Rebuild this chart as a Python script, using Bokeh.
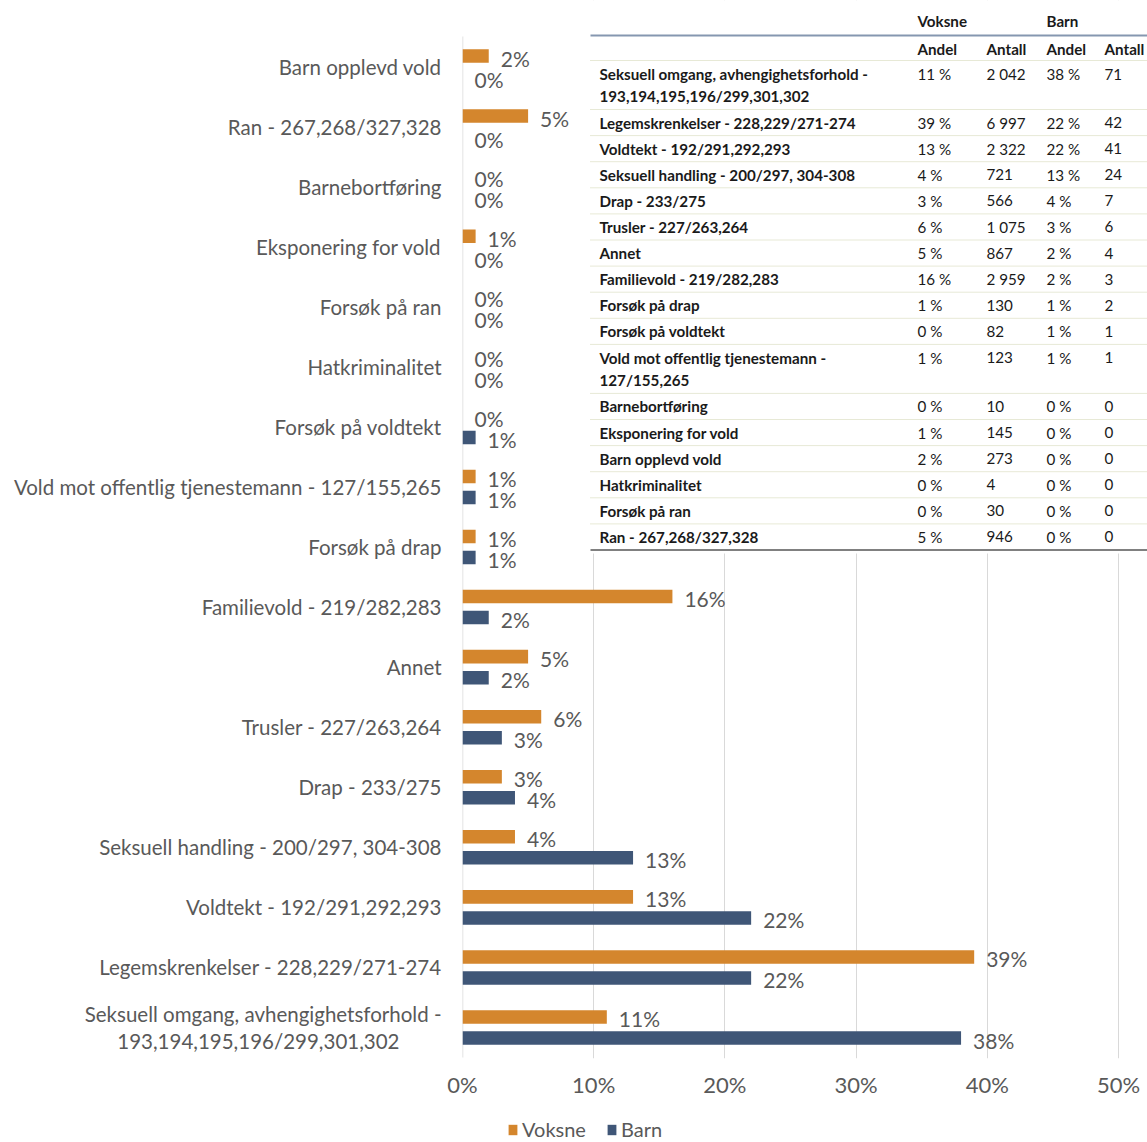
from bokeh.plotting import figure
from bokeh.layouts import column
from bokeh.models import Range1d, FixedTicker, PrintfTickFormatter, Legend, LegendItem
from bokeh.embed import file_html
from bokeh.resources import INLINE
from bokeh.core.properties import value

# ---------------- data ----------------
categories = [
    "Barn opplevd vold",
    "Ran - 267,268/327,328",
    "Barnebortføring",
    "Eksponering for vold",
    "Forsøk på ran",
    "Hatkriminalitet",
    "Forsøk på voldtekt",
    "Vold mot offentlig tjenestemann - 127/155,265",
    "Forsøk på drap",
    "Familievold - 219/282,283",
    "Annet",
    "Trusler - 227/263,264",
    "Drap - 233/275",
    "Seksuell handling - 200/297, 304-308",
    "Voldtekt - 192/291,292,293",
    "Legemskrenkelser - 228,229/271-274",
    "Seksuell omgang, avhengighetsforhold -\n193,194,195,196/299,301,302",
]
voksne = [2, 5, 0, 1, 0, 0, 0, 1, 1, 16, 5, 6, 3, 4, 13, 39, 11]
barn = [0, 0, 0, 0, 0, 0, 1, 1, 1, 2, 2, 3, 4, 13, 22, 22, 38]
series_names = ["Voksne", "Barn"]
x_ticks = [0, 10, 20, 30, 40, 50]

table_groups = ["Voksne", "Barn"]
table_header = ["Andel", "Antall", "Andel", "Antall"]
table_rows = [
    "Seksuell omgang, avhengighetsforhold -\n193,194,195,196/299,301,302",
    "Legemskrenkelser - 228,229/271-274",
    "Voldtekt - 192/291,292,293",
    "Seksuell handling - 200/297, 304-308",
    "Drap - 233/275",
    "Trusler - 227/263,264",
    "Annet",
    "Familievold - 219/282,283",
    "Forsøk på drap",
    "Forsøk på voldtekt",
    "Vold mot offentlig tjenestemann -\n127/155,265",
    "Barnebortføring",
    "Eksponering for vold",
    "Barn opplevd vold",
    "Hatkriminalitet",
    "Forsøk på ran",
    "Ran - 267,268/327,328",
]
table_voksne_andel = [11, 39, 13, 4, 3, 6, 5, 16, 1, 0, 1, 0, 1, 2, 0, 0, 5]
table_voksne_antall = [2042, 6997, 2322, 721, 566, 1075, 867, 2959, 130, 82, 123, 10, 145, 273, 4, 30, 946]
table_barn_andel = [38, 22, 22, 13, 4, 3, 2, 2, 1, 1, 1, 0, 0, 0, 0, 0, 0]
table_barn_antall = [71, 42, 41, 24, 7, 6, 4, 3, 2, 1, 1, 0, 0, 0, 0, 0, 0]

# ---------------- style / layout ----------------
ORANGE = "#D4862D"
NAVY = "#3F5677"
GREY_TXT = "#595959"
GRID = "#d9d9d9"
FONT = "Lato"

W, H_TOTAL = 1147, 1142
H = 1110                                  # main figure height; legend strip below
FRAME_L, FRAME_R = 462, W                 # page px
FRAME_T, FRAME_B = 0, 1058                # page px
X50_PX = 1118
PITCH = 60.06
BOTTOM_CAT_PX = 1027

n = len(categories)
ypos = [n - 1 - i for i in range(n)]

x_end = 50 * (FRAME_R - FRAME_L) / (X50_PX - FRAME_L)
y_start = -(FRAME_B - BOTTOM_CAT_PX) / PITCH
y_end = (BOTTOM_CAT_PX - FRAME_T) / PITCH

p = figure(width=W, height=H, output_backend="svg", toolbar_location=None,
           x_range=Range1d(0, x_end), y_range=Range1d(y_start, y_end),
           min_border_left=FRAME_L, min_border_right=0, min_border_top=0,
           min_border_bottom=H - FRAME_B)
p.outline_line_color = None
p.background_fill_color = "white"
p.border_fill_color = "white"

p.extra_x_ranges = {"px": Range1d(FRAME_L, FRAME_R)}
p.extra_y_ranges = {"py": Range1d(FRAME_B, FRAME_T)}

# grid
p.ygrid.visible = False
p.xgrid.ticker = FixedTicker(ticks=x_ticks[1:])
p.xgrid.grid_line_color = GRID
p.xgrid.grid_line_width = 1

# axes
p.xaxis.ticker = FixedTicker(ticks=x_ticks)
p.xaxis.formatter = PrintfTickFormatter(format="%d%%")
p.xaxis.axis_line_color = None
p.xaxis.major_tick_line_color = None
p.xaxis.minor_tick_line_color = None
p.xaxis.major_tick_out = 0
p.xaxis.major_tick_in = 0
p.xaxis.major_label_standoff = 12
p.xaxis.major_label_text_font = FONT
p.xaxis.major_label_text_font_size = "22px"
p.xaxis.major_label_text_color = GREY_TXT

# second line of the two-line label is centred under the first (padding on the right)
label_text = []
for c in categories:
    parts = c.split("\n")
    if len(parts) > 1:
        c = parts[0] + "\n" + parts[1] + "\u00a0" * 8
    label_text.append(c)

p.yaxis.ticker = FixedTicker(ticks=ypos)
p.yaxis.major_label_overrides = {y: c for y, c in zip(ypos, label_text)}
p.yaxis.axis_line_color = None
p.yaxis.major_tick_line_color = None
p.yaxis.minor_tick_line_color = None
p.yaxis.major_tick_out = 0
p.yaxis.major_tick_in = 0
p.yaxis.major_label_standoff = 21
p.yaxis.major_label_text_font = FONT
p.yaxis.major_label_text_font_size = "20.5px"
p.yaxis.major_label_text_line_height = 1.1
p.yaxis.major_label_text_color = GREY_TXT

# 0% axis line
p.segment(x0=[0], y0=[-0.5], x1=[0], y1=[n - 0.5], line_color=GRID, line_width=1.5)

# bars
OFF = 0.175
BH = 0.225
yv = [y + OFF for y in ypos]
yb = [y - OFF for y in ypos]
r_v = p.hbar(y=yv, left=0, right=voksne, height=BH, fill_color=ORANGE, line_color=None)
r_b = p.hbar(y=yb, left=0, right=barn, height=BH, fill_color=NAVY, line_color=None)

lab_kw = dict(text_font=value(FONT), text_font_size="21px", text_color=GREY_TXT,
              text_align="left", text_baseline="middle", x_offset=12, y_offset=2)
p.text(x=voksne, y=yv, text=[f"{v}%" for v in voksne], **lab_kw)
p.text(x=barn, y=yb, text=[f"{v}%" for v in barn], **lab_kw)

# ---------------- table (page-pixel coordinates) ----------------
T_LEFT, T_RIGHT = 590, FRAME_R
TX_LABEL = 599
TX_COLS = [917, 986, 1046, 1104]
TFS = "15.2px"
px = dict(x_range_name="px", y_range_name="py")

p.quad(left=[T_LEFT - 2], right=[T_RIGHT], top=[FRAME_T], bottom=[553],
       fill_color="white", line_color=None, **px)

hdr_kw = dict(text_font=value(FONT), text_font_size=TFS, text_font_style="bold",
              text_color="#1a1a1a", text_align="left", text_baseline="middle", **px)
p.text(x=[TX_COLS[0], TX_COLS[2]], y=[20, 20], text=table_groups, **hdr_kw)
p.text(x=TX_COLS, y=[48] * 4, text=table_header, **hdr_kw)
p.segment(x0=[T_LEFT], x1=[T_RIGHT], y0=[35], y1=[35], line_color="#8597b0", line_width=2, **px)

row_top = 60
h_single, h_double, gap = 26.1, 49.0, 11
lab_x, lab_y, lab_t = [], [], []
val_x, val_y, val_t = [], [], []
seps = [row_top]
yy = row_top
for i, row in enumerate(table_rows):
    lines = row.split("\n")
    h = h_double if len(lines) > 1 else h_single
    c = yy + h / 2
    ys = [c - gap, c + gap] if len(lines) > 1 else [c]
    for ln, ly in zip(lines, ys):
        lab_x.append(TX_LABEL); lab_y.append(ly); lab_t.append(ln)
    vals = [f"{table_voksne_andel[i]} %", f"{table_voksne_antall[i]:,}".replace(",", " "),
            f"{table_barn_andel[i]} %", f"{table_barn_antall[i]}"]
    for cx, v in zip(TX_COLS, vals):
        val_x.append(cx); val_y.append(ys[0]); val_t.append(v)
    yy += h
    seps.append(yy)

p.text(x=lab_x, y=lab_y, text=lab_t, **hdr_kw)
p.text(x=val_x, y=val_y, text=val_t, text_font=value(FONT), text_font_size=TFS,
       text_color="#1a1a1a", text_align="left", text_baseline="middle", **px)
p.segment(x0=[T_LEFT] * (len(seps) - 1), x1=[T_RIGHT] * (len(seps) - 1),
          y0=seps[:-1], y1=seps[:-1], line_color="#cfd3ad", line_width=1,
          line_dash="1 1", **px)
p.segment(x0=[T_LEFT], x1=[T_RIGHT], y0=[seps[-1]], y1=[seps[-1]],
          line_color="#808080", line_width=2, **px)

# ---------------- legend strip (separate figure below) ----------------
# Same series drawn again, but the y range is chosen so the bars fall outside the view;
# only the legend of this strip is visible.
H2 = H_TOTAL - H
p2 = figure(width=W, height=H2, output_backend="svg", toolbar_location=None,
            x_range=Range1d(0, x_end), y_range=Range1d(n + 10, n + 11),
            min_border=0, x_axis_location=None, y_axis_location=None)
p2.outline_line_color = None
p2.grid.visible = False
p2.background_fill_color = "white"
p2.border_fill_color = "white"
d_v = p2.hbar(y=yv, left=0, right=voksne, height=BH, fill_color=ORANGE, line_color=None)
d_b = p2.hbar(y=yb, left=0, right=barn, height=BH, fill_color=NAVY, line_color=None)

legend = Legend(items=[LegendItem(label=series_names[0], renderers=[d_v]),
                       LegendItem(label=series_names[1], renderers=[d_b])],
                orientation="horizontal", location=(45, 1),
                glyph_width=11, glyph_height=13, label_height=13,
                label_standoff=4, spacing=20, padding=0, margin=0,
                border_line_color=None, background_fill_alpha=0,
                label_text_font=FONT, label_text_font_size="20px",
                label_text_color=GREY_TXT)
p2.add_layout(legend, "center")

layout = column(p, p2, spacing=0)
open("out.html", "w").write(file_html(layout, INLINE))
